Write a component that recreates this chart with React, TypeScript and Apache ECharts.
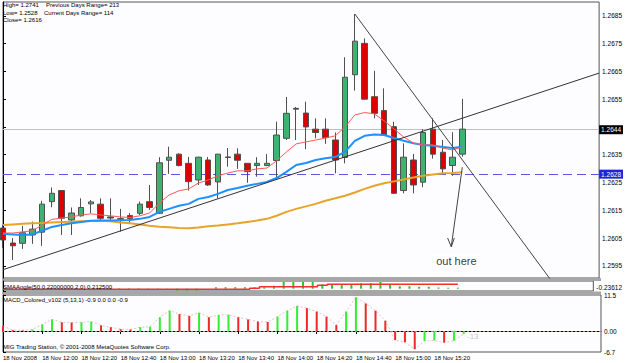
import React, { useEffect, useRef } from "react";
import * as echarts from "echarts";

const FONT = "Liberation Sans, Arial, sans-serif";

// 5-minute bars, 18 Nov 2008
const barTimes = [
  "11:40", "11:45", "11:50", "11:55", "12:00", "12:05", "12:10", "12:15",
  "12:20", "12:25", "12:30", "12:35", "12:40", "12:45", "12:50", "12:55",
  "13:00", "13:05", "13:10", "13:15", "13:20", "13:25", "13:30", "13:35",
  "13:40", "13:45", "13:50", "13:55", "14:00", "14:05", "14:10", "14:15",
  "14:20", "14:25", "14:30", "14:35", "14:40", "14:45", "14:50", "14:55",
  "15:00", "15:05", "15:10", "15:15", "15:20", "15:25", "15:30", "15:35",
];

const opens = [
  1.26086, 1.26032, 1.26031, 1.26061, 1.26071, 1.26181, 1.26221, 1.26115,
  1.2613, 1.26173, 1.26172, 1.26126, 1.2612, 1.26131, 1.26139, 1.26181,
  1.26139, 1.2633, 1.26352, 1.26319, 1.26259, 1.26331, 1.26252, 1.26342,
  1.26352, 1.26319, 1.26311, 1.26311, 1.26329, 1.26409, 1.26517, 1.265,
  1.26442, 1.26442, 1.26403, 1.2634, 1.26638, 1.26751, 1.26559, 1.26509,
  1.26451, 1.26221, 1.26331, 1.26251, 1.26442, 1.26359, 1.26311, 1.26352,
];
const closes = [
  1.26043, 1.26022, 1.26069, 1.26082, 1.26172, 1.26211, 1.26121, 1.2614,
  1.2616, 1.2618, 1.26121, 1.26122, 1.26118, 1.2612, 1.26172, 1.2616,
  1.26321, 1.26341, 1.26311, 1.26253, 1.26341, 1.26241, 1.26352, 1.2634,
  1.2633, 1.26289, 1.26319, 1.26319, 1.26421, 1.26499, 1.26514, 1.2645,
  1.2643, 1.26412, 1.26331, 1.26629, 1.26759, 1.2655, 1.26499, 1.26421,
  1.26211, 1.26341, 1.26241, 1.2643, 1.26352, 1.26299, 1.26341, 1.26442,
];
const lows = [
  1.26014, 1.25971, 1.26011, 1.26029, 1.26022, 1.26161, 1.26061, 1.26061,
  1.26127, 1.2614, 1.26112, 1.26115, 1.26073, 1.26104, 1.26133, 1.26151,
  1.26137, 1.26281, 1.26308, 1.26221, 1.26241, 1.26238, 1.26193, 1.26307,
  1.26299, 1.26249, 1.26271, 1.26309, 1.26259, 1.26403, 1.26403, 1.2637,
  1.26409, 1.26389, 1.26283, 1.26319, 1.26581, 1.26548, 1.26481, 1.26419,
  1.26209, 1.26211, 1.26211, 1.26233, 1.26336, 1.26283, 1.26274, 1.26343,
];
const highs = [
  1.26097, 1.2605, 1.26094, 1.26109, 1.26184, 1.26232, 1.26223, 1.2616,
  1.26193, 1.26187, 1.26193, 1.26193, 1.26155, 1.2614, 1.26181, 1.26241,
  1.26341, 1.26379, 1.26355, 1.26342, 1.26343, 1.26342, 1.26353, 1.26374,
  1.26373, 1.2632, 1.26341, 1.26352, 1.26469, 1.26558, 1.26522, 1.26541,
  1.26481, 1.26481, 1.2643, 1.26701, 1.26857, 1.26769, 1.26652, 1.26589,
  1.26469, 1.26391, 1.26353, 1.26442, 1.26481, 1.26403, 1.26431, 1.26551,
];

const maFast = [
  1.26068, 1.26068, 1.26072, 1.26076, 1.26097, 1.26117, 1.26122, 1.26126,
  1.26133, 1.26137, 1.26133, 1.2613, 1.26126, 1.26124, 1.2613, 1.2614,
  1.26176, 1.26205, 1.2622, 1.26227, 1.26248, 1.26259, 1.26274, 1.26284,
  1.26292, 1.26292, 1.26299, 1.26302, 1.26328, 1.2636, 1.26389, 1.26396,
  1.26403, 1.2641, 1.26418, 1.2645, 1.26493, 1.26502, 1.26497, 1.26472,
  1.26443, 1.26414, 1.26392, 1.26385, 1.26385, 1.26374, 1.26367, 1.26378,
];
const maMid = [
  1.26065, 1.26063, 1.26061, 1.26063, 1.26076, 1.2609, 1.26097, 1.26103,
  1.26108, 1.26112, 1.26113, 1.26113, 1.26114, 1.26115, 1.26119, 1.26126,
  1.26144, 1.26155, 1.26166, 1.26173, 1.26191, 1.26198, 1.26209, 1.26223,
  1.2623, 1.26238, 1.26245, 1.26252, 1.26266, 1.26288, 1.26313, 1.2632,
  1.26331, 1.26337, 1.26342, 1.2636, 1.264, 1.26418, 1.26423, 1.26421,
  1.2641, 1.264, 1.26391, 1.26385, 1.26382, 1.26378, 1.26374, 1.26379,
];
const maSlow = [
  1.26097, 1.26099, 1.26101, 1.26103, 1.26104, 1.26106, 1.26108, 1.26109,
  1.2611, 1.26111, 1.26112, 1.2611, 1.26106, 1.26103, 1.26099, 1.26094,
  1.26091, 1.26089, 1.26086, 1.26085, 1.26088, 1.26092, 1.26095, 1.26099,
  1.26103, 1.26108, 1.26113, 1.26119, 1.2613, 1.26144, 1.26155, 1.26164,
  1.26173, 1.26184, 1.26193, 1.26202, 1.26214, 1.26227, 1.26238, 1.26247,
  1.26254, 1.26261, 1.26268, 1.26274, 1.26279, 1.26283, 1.26284, 1.26287,
];

const smaAngleHist = [
  0, 0, 0, 0, 0, 0, 0, 0, 0, 0, 0.05, 0.05, 0.05, 0.05, 0.05, -0.1,
  -0.1, -0.1, -0.2, -0.2, -0.2, 0, 0.15, 0.15, 0.15, 0.15, 0.15, 0.15,
  0.3, 0.69, 0.69, 0.69, 0.69, 0.45, 0.45, 0.45, 0.45, 0.55, 0.55, 0.69,
  0.4, 0.25, 0.25, 0.2, 0.2, 0.12, 0.1, 0.1,
];
const smaAngleLine = [
  -0.06, -0.06, -0.06, -0.06, -0.06, -0.06, -0.06, -0.06, -0.06, -0.06,
  -0.06, -0.06, -0.06, -0.06, -0.06, -0.06, -0.06, -0.06, -0.06, -0.06,
  -0.06, -0.06, -0.06, -0.06, -0.06, -0.06, 0.05, 0.2, 0.2, 0.2, 0.2, 0.2,
  0.2, 0.35, 0.45, 0.45, 0.45, 0.45, 0.45, 0.45, 0.45, 0.45, 0.45, 0.45,
  0.45, 0.45, 0.45, 0.45,
];

const macdValues = [
  1.6, 0.3, 0.2, 0.5, 2.1, 3.7, 2.8, 2.7, 2.8, 3.0, 1.8, 1.2, 0.6, 0.5, 1.2, 1.4,
  4.4, 6.5, 5.4, 4.8, 5.8, 4.4, 5.1, 5.2, 4.4, 3.7, 3.0, 2.9, 4.6, 6.5, 8.0, 7.3,
  6.2, 4.6, 1.9, 6.2, 10.8, 8.8, 6.5, 3.3, -2.9, -3.6, -5.8, -3.2, -3.0, -3.7, -3.1, -0.9,
];

const priceTicks = [1.2595, 1.2605, 1.2615, 1.2625, 1.2635, 1.2645, 1.2655, 1.2665, 1.2675, 1.2685];
// 1.2645 is hidden behind the current-price box in the reference
const priceLabels = [1.2595, 1.2605, 1.2615, 1.2625, 1.2635, 1.2655, 1.2665, 1.2675, 1.2685];
const macdTicks = [-6.7, 0, 11.5];
const smaTicks = [-0.23612];
const timeTickIdx = [0, 4, 8, 12, 16, 20, 24, 28, 32, 36, 40, 44];

const bidLevel = 1.2644;
const dashLevel = 1.2628;

// trend lines & annotation (bar index, price)
const trendUp = [[0, 1.25936], [61, 1.26644]];
const trendDown = [[36, 1.26857], [58, 1.25806]];
const arrowShaft = [[47, 1.26305], [45.87, 1.26019]];
const arrowHead = [[45.5, 1.2605], [45.87, 1.26018], [46.18, 1.2605]];
const notePoint = [[46.4, 1.25968]];

export default function App() {
  const ref = useRef<HTMLDivElement>(null);

  useEffect(() => {
    const chart = echarts.init(ref.current!, null, { renderer: "svg" });
    const pairs = (arr: number[]) => arr.map((v, i) => [i, v]);
    const candles = opens.map((o, i) => [i, o, closes[i], lows[i], highs[i]]);

    const xBase: any = { type: "value", min: 0, max: 61, interval: 4, splitLine: { show: false } };
    const yCommon = (
      gi: number, min: number, max: number, ticks: number[], labels: number[],
      fmt: (v: number) => string, vAlign = "middle",
    ) => ({
      type: "value",
      gridIndex: gi,
      position: "right",
      min,
      max,
      splitLine: { show: false },
      axisLine: { show: true, lineStyle: { color: "#000", width: 1 } },
      axisTick: { show: true, length: 3, customValues: ticks, lineStyle: { color: "#000" } },
      axisLabel: {
        customValues: labels,
        formatter: fmt,
        fontSize: 6.5,
        fontFamily: FONT,
        color: "#000",
        margin: 3,
        verticalAlign: vAlign,
      },
    });

    const gridBase = { left: 3, right: 24, show: true, borderColor: "#555", borderWidth: 1, backgroundColor: "#fdfcfe" };

    const smallText = (x: number, y: number, text: string, fill = "#000", size = 6) => ({
      type: "text",
      x,
      y,
      silent: true,
      style: { text, fill, fontSize: size, fontFamily: FONT, verticalAlign: "middle", align: "left" },
      z: 100,
    });

    const levelLabel = (v: number, bg: string) => ({
      show: true,
      position: "end",
      formatter: v.toFixed(4),
      backgroundColor: bg,
      color: "#fff",
      fontSize: 6.5,
      fontFamily: FONT,
      padding: [1, 2],
      distance: 0,
    });

    const option: any = {
      animation: false,
      backgroundColor: "#ffffff",
      grid: [
        { ...gridBase, top: 2, height: 276 },
        { ...gridBase, top: 281, height: 10 },
        { ...gridBase, top: 295, height: 57 },
      ],
      xAxis: [
        { ...xBase, gridIndex: 0, show: false },
        { ...xBase, gridIndex: 1, show: false },
        {
          ...xBase,
          gridIndex: 2,
          axisLine: { show: true, lineStyle: { color: "#000" } },
          axisTick: { show: true, length: 3, customValues: timeTickIdx, lineStyle: { color: "#000" } },
          axisLabel: {
            customValues: timeTickIdx,
            fontSize: 6,
            fontFamily: FONT,
            color: "#000",
            align: "left",
            margin: 3,
            formatter: (v: number) => {
              const i = Math.round(v);
              if (i === 0) return "18 Nov 2008";
              if (i >= barTimes.length) return "";
              return "18 Nov " + barTimes[i];
            },
          },
        },
      ],
      yAxis: [
        yCommon(0, 1.25906, 1.269, priceTicks, priceLabels, (v: number) => v.toFixed(4)),
        yCommon(1, -0.23612, 0.79, smaTicks, smaTicks, (v: number) => v.toFixed(5), "bottom"),
        yCommon(2, -6.7, 11.5, macdTicks, macdTicks, (v: number) => (v === 0 ? "0.00" : v.toFixed(1))),
      ],
      series: [
        {
          type: "candlestick",
          xAxisIndex: 0,
          yAxisIndex: 0,
          data: candles,
          encode: { x: 0, y: [1, 2, 3, 4] },
          barWidth: 6,
          clip: true,
          z: 2,
          itemStyle: {
            color: "#3cb371",
            color0: "#dd0000",
            borderColor: "#505050",
            borderColor0: "#505050",
            borderWidth: 1,
          },
        },
        {
          type: "line", xAxisIndex: 0, yAxisIndex: 0, data: pairs(maSlow), showSymbol: false, z: 3,
          lineStyle: { color: "#e6a52a", width: 2 },
        },
        {
          type: "line", xAxisIndex: 0, yAxisIndex: 0, data: pairs(maMid), showSymbol: false, z: 3,
          lineStyle: { color: "#1e90ff", width: 2 },
        },
        {
          type: "line", xAxisIndex: 0, yAxisIndex: 0, data: pairs(maFast), showSymbol: false, z: 3,
          lineStyle: { color: "#ff5a5a", width: 1 },
        },
        {
          type: "line", xAxisIndex: 0, yAxisIndex: 0, data: trendUp, showSymbol: false, z: 4, silent: true,
          lineStyle: { color: "#333", width: 1 },
          markLine: {
            silent: true,
            symbol: ["none", "none"],
            precision: 4,
            z: 1,
            data: [
              {
                yAxis: bidLevel,
                lineStyle: { color: "#c0c0c0", type: "solid", width: 1 },
                label: levelLabel(bidLevel, "#000"),
              },
              {
                yAxis: dashLevel,
                lineStyle: { color: "#5a5ae0", type: [9, 5], width: 1 },
                label: levelLabel(dashLevel, "#2222d8"),
              },
            ],
          },
        },
        {
          type: "line", xAxisIndex: 0, yAxisIndex: 0, data: trendDown, showSymbol: false, z: 4, silent: true,
          lineStyle: { color: "#444", width: 1 },
        },
        {
          type: "line", xAxisIndex: 0, yAxisIndex: 0, data: arrowShaft, showSymbol: false, z: 4, silent: true,
          lineStyle: { color: "#444", width: 1 },
        },
        {
          type: "line", xAxisIndex: 0, yAxisIndex: 0, data: arrowHead, showSymbol: false, z: 4, silent: true,
          lineStyle: { color: "#444", width: 1 },
        },
        {
          type: "scatter", xAxisIndex: 0, yAxisIndex: 0, data: notePoint, symbolSize: 1, z: 5, silent: true,
          itemStyle: { color: "rgba(0,0,0,0)" },
          label: {
            show: true,
            position: "inside",
            formatter: "out here",
            fontSize: 11,
            fontFamily: FONT,
            color: "#000",
            backgroundColor: "#fff",
            padding: [1, 3],
          },
        },
        {
          type: "bar", xAxisIndex: 1, yAxisIndex: 1, data: pairs(smaAngleHist), barWidth: 2,
          itemStyle: { color: "#22cc22" },
        },
        {
          type: "line", xAxisIndex: 1, yAxisIndex: 1, data: pairs(smaAngleLine), showSymbol: false, step: "middle",
          lineStyle: { color: "#ee3030", width: 1.5 },
        },
        {
          type: "bar", xAxisIndex: 2, yAxisIndex: 2, barWidth: 2,
          data: macdValues.map((v, i) => ({
            value: [i, v],
            itemStyle: { color: i > 0 && v > macdValues[i - 1] ? "#33ee33" : "#f02828" },
          })),
          markLine: {
            silent: true,
            symbol: ["none", "none"],
            label: { show: false },
            data: [{ yAxis: 0, lineStyle: { color: "#a09070", type: [2, 2], width: 1 } }],
          },
        },
        {
          type: "line", xAxisIndex: 2, yAxisIndex: 2, data: pairs(macdValues), showSymbol: false, z: 1,
          lineStyle: { color: "#e2c4c4", width: 1, type: [2, 2] },
        },
      ],
      graphic: [
        { type: "rect", shape: { x: 2, y: 278, width: 599, height: 3 }, style: { fill: "#a6a6a6" }, silent: true },
        { type: "rect", shape: { x: 2, y: 291.5, width: 599, height: 3 }, style: { fill: "#a6a6a6" }, silent: true },
        smallText(3, 5, "High= 1.2741"),
        smallText(46, 5, "Previous Days Range= 213"),
        smallText(3, 12.5, "Low= 1.2528"),
        smallText(44, 12.5, "Current Days Range= 114"),
        smallText(3, 20, "Close= 1.2616"),
        smallText(3, 286.5, "SMAAngle(50,0.22000000,2,0) 0.212500"),
        smallText(3, 300, "MACD_Colored_v102 (5,13,1) -0.9 0.0 0.0 -0.9"),
        smallText(3, 347, "MIG Trading Station, © 2001-2008 MetaQuotes Software Corp."),
        smallText(467, 336, "-13", "#c4c4c4", 8),
      ],
    };

    chart.setOption(option);
    return () => chart.dispose();
  }, []);

  return <div ref={ref} style={{ position: "fixed", left: 0, top: 0, width: 625, height: 363 }} />;
}
